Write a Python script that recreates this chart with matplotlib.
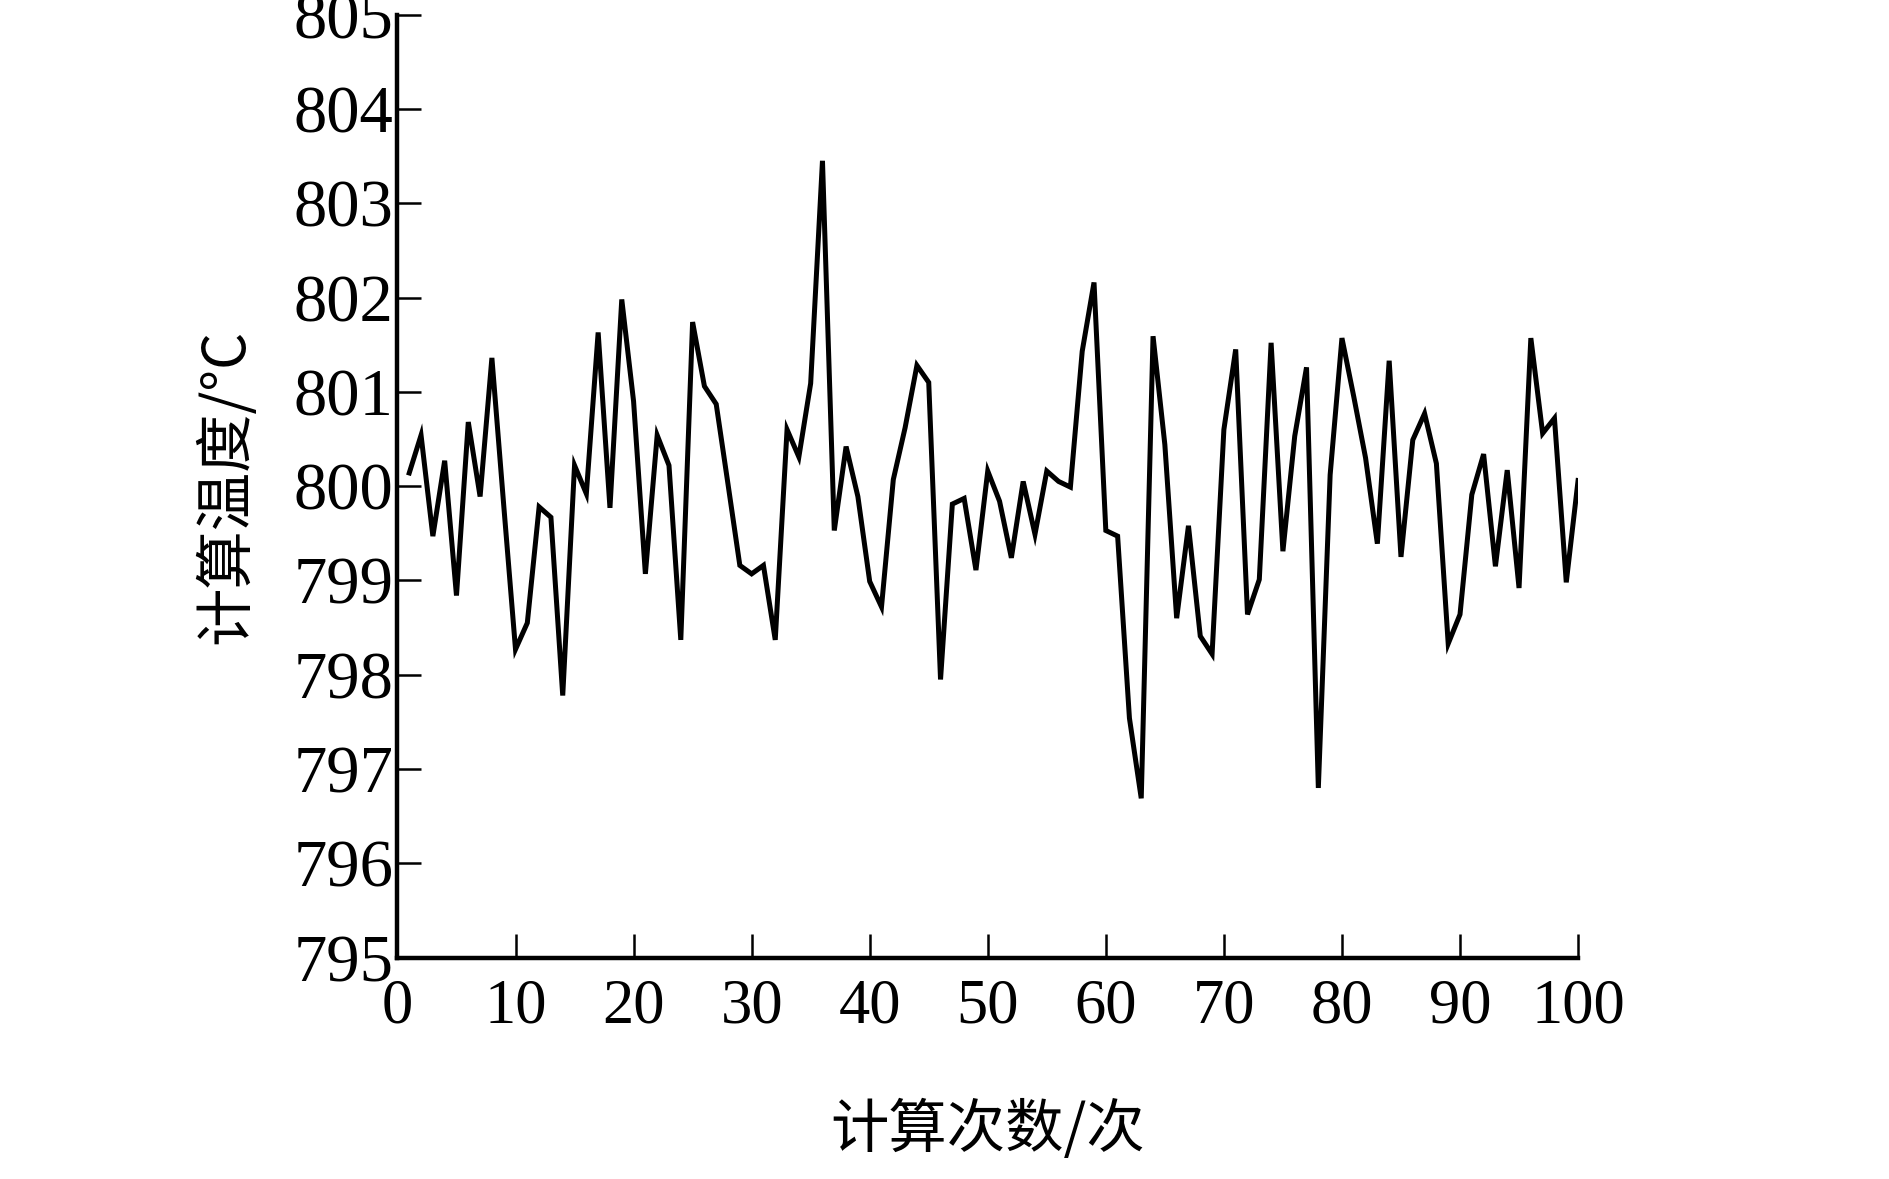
import matplotlib
matplotlib.use("Agg")
import matplotlib.pyplot as plt
import numpy as np

# calculation index and computed temperature
runs = list(range(1, 101))
temps = [
    800.14, 800.54, 799.47, 800.27, 798.84, 800.68, 799.89, 801.36, 799.80, 798.27,
    798.55, 799.78, 799.67, 797.78, 800.22, 799.92, 801.63, 799.77, 801.98, 800.90,
    799.07, 800.54, 800.22, 798.37, 801.74, 801.06, 800.87, 800.02, 799.16, 799.07,
    799.16, 798.37, 800.60, 800.31, 801.09, 803.45, 799.53, 800.42, 799.89, 798.99,
    798.72, 800.07, 800.62, 801.28, 801.10, 797.95, 799.81, 799.87, 799.11, 800.16,
    799.84, 799.24, 800.05, 799.49, 800.16, 800.05, 799.99, 801.43, 802.16, 799.53,
    799.47, 797.54, 796.69, 801.59, 800.44, 798.60, 799.58, 798.41, 798.22, 800.60,
    801.45, 798.64, 799.01, 801.52, 799.31, 800.53, 801.26, 796.80, 800.12, 801.57,
    800.95, 800.30, 799.39, 801.33, 799.25, 800.49, 800.77, 800.24, 798.33, 798.64,
    799.91, 800.34, 799.15, 800.17, 798.92, 801.57, 800.56, 800.72, 798.98, 800.06,
]
x_ticks = list(range(0, 101, 10))
y_ticks = list(range(795, 806))

CJK = ["Noto Sans CJK SC", "DejaVu Sans"]
SERIF = ["Liberation Serif", "DejaVu Serif"]

fig = plt.figure(figsize=(18.89, 11.79), dpi=100)
ax = fig.add_axes([0.2104, 0.1877, 0.6250, 0.7999])

ax.plot(runs, temps, color="black", linewidth=3.6, solid_joinstyle="miter")

ax.set_xlim(0, 100)
ax.set_ylim(795, 805)
ax.set_xticks(x_ticks)
ax.set_yticks(y_ticks)

for side in ("top", "right"):
    ax.spines[side].set_visible(False)
for side in ("left", "bottom"):
    ax.spines[side].set_linewidth(3.2)

ax.tick_params(axis="both", direction="in", length=17, width=1.8, color="black")
ax.tick_params(axis="x", pad=15)
ax.tick_params(axis="y", pad=3)

for lab in ax.get_xticklabels():
    lab.set_fontfamily(SERIF)
    lab.set_fontsize(45)
for lab in ax.get_yticklabels():
    lab.set_fontfamily(SERIF)
    lab.set_fontsize(48)

ax.set_xlabel("计算次数/次", family=CJK, fontsize=42, labelpad=46)
ax.set_ylabel("计算温度/°C", family=CJK, fontsize=42, labelpad=26)

fig.savefig("out.png", dpi=100)
